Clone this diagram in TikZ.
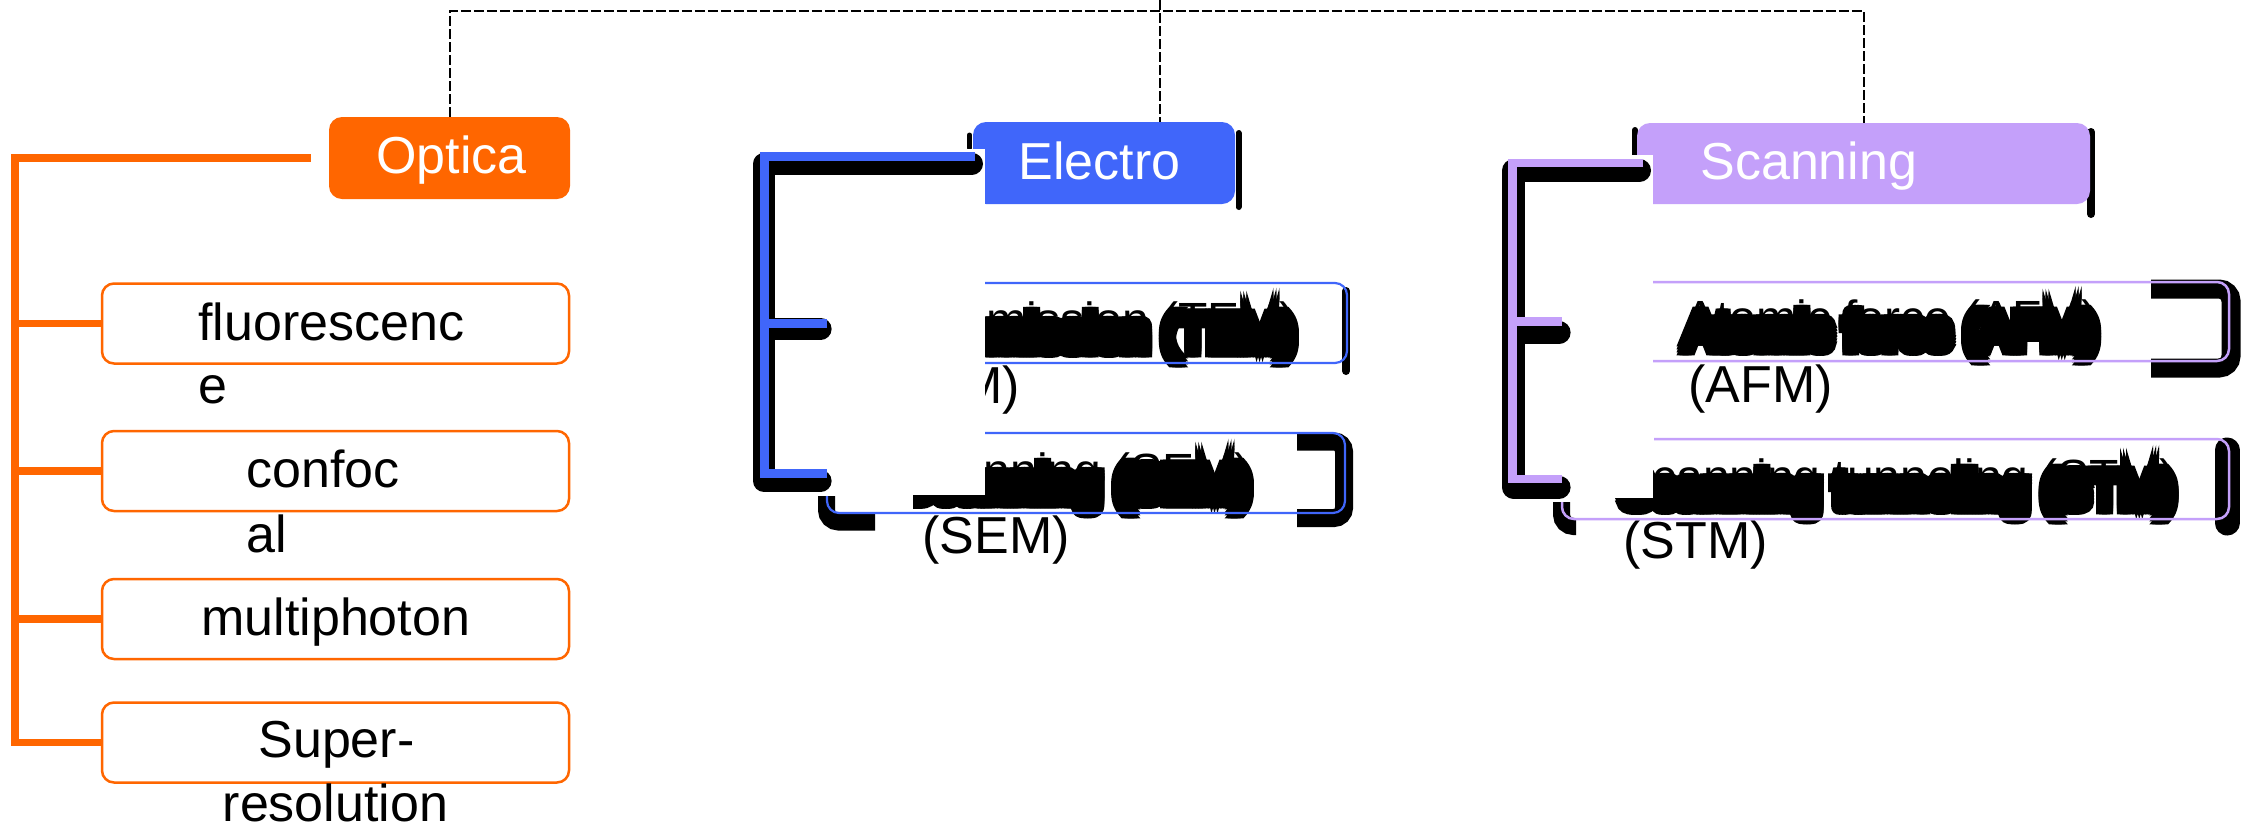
\documentclass[tikz,border=0pt]{standalone}
\usepackage{fontspec}
\setmainfont{Liberation Sans}
\newfontfamily\blobfont[FakeBold=14]{Liberation Sans}
\usetikzlibrary{calc}
\definecolor{optorange}{RGB}{255,102,0}
\definecolor{elblue}{RGB}{64,102,250}
\definecolor{scpurple}{RGB}{196,160,250}
\tikzset{
  txt/.style={inner sep=0pt, font=\fontsize{26pt}{32pt}\selectfont, anchor=base west},
  headtxt/.style={txt, text=white},
  blobthin/.style={inner sep=0pt, font=\fontsize{24pt}{29pt}\selectfont},
  blobthick/.style={inner sep=0pt, font=\fontsize{24pt}{29pt}\blobfont},
  headbox/.style={rectangle, rounded corners=6.5pt, inner sep=0pt},
  obox/.style={rectangle, draw=optorange, line width=1.25pt, rounded corners=6pt, fill=white, minimum width=233.5pt, minimum height=40pt, inner sep=0pt},
  ghost/.style={rectangle, draw=none, inner sep=0pt},
  dashline/.style={black, line width=1pt, dash pattern=on 5pt off 1.5pt},
  shadowpiece/.style={black, line cap=round},
  otree/.style={optorange, line width=3.75pt},
  etree/.style={elblue, line width=4.5pt},
  stree/.style={scpurple, line width=4.25pt},
  treeshadow/.style={black, line cap=round, line join=round},
  eoutline/.style={elblue, line width=1.1pt, rounded corners=6pt},
  soutline/.style={scpurple, line width=1.25pt, rounded corners=6pt}
}
\newcommand{\blobtext}[5]{%
  \foreach \bdx in {-3,0,3}{\foreach \bdy in {9,12,15,18}{%
    \node[blobthick, anchor=#1] at ({#2+(\bdx)},{#3+(\bdy)}) {#4};}}%
  \node[blobthin, anchor=#1] (#5) at (#2,#3) {#4};}
\begin{document}
\begin{tikzpicture}[x=0.5pt,y=-0.5pt]
\useasboundingbox (0,0) rectangle (2249,826);
\fill[white] (0,0) rectangle (2249,826);

% heading shadows
\draw[shadowpiece, line width=2.5pt] (969.5,135) -- (969.5,148);
\draw[shadowpiece, line width=3pt] (1238.5,133) -- (1238.5,207);
\draw[shadowpiece, line width=3pt] (1635,130) -- (1635,155);
\draw[shadowpiece, line width=4pt] (2091,132) -- (2091,214);

% heading boxes
\node[headbox, fill=optorange, minimum width=120.5pt, minimum height=41pt] (optica) at (449.5,158) {};
\node[headbox, fill=elblue, minimum width=131pt, minimum height=41pt] (electro) at (1104,163) {};
\node[headbox, fill=scpurple, minimum width=226.5pt, minimum height=40.5pt] (scanning) at (1863.5,163.5) {};
\fill[white] (955,149) rectangle (985,212);
\fill[white] (1620,155) rectangle (1653,212);
\node[headtxt] (opticaT) at (376,173) {Optica};
\node[headtxt] (electroT) at (1018,179) {Electro};
\node[headtxt] (scanningT) at (1700,179) {Scanning};

% dashed connectors
\coordinate (root) at (1160,0);
\coordinate (bus) at (1160,11);
\draw[dashline] (optica.north) |- (bus) -| (scanning.north);
\draw[dashline] (root) -- (root |- electro.north);

% child boxes of the electron and scanning groups (outline drawn later)
\node[ghost, minimum width=260pt, minimum height=40pt] (teb) at (1087,323) {};
\node[ghost, minimum width=259pt, minimum height=40pt] (seb) at (1086,473) {};
\node[ghost, minimum width=333.5pt, minimum height=39.5pt] (afm) at (1895.5,321.5) {};
\node[ghost, minimum width=333.5pt, minimum height=40pt] (stm) at (1895.5,479) {};

% box shadows
\draw[shadowpiece, line width=4pt] (1346,291) -- (1346,371);
\draw[black, line width=9pt, rounded corners=5pt] (1297,441.5) -- (1344,441.5) -- (1344,518) -- (1297,518);
\draw[black, line width=8.5pt, rounded corners=6pt] (826.5,496) -- (826.5,522) -- (875,522);
\draw[black, line width=9.5pt, rounded corners=6pt] (2151,289) -- (2231,289) -- (2231,368) -- (2151,368);
\draw[shadowpiece, line width=12.5pt] (2227,450) -- (2227,523);
\draw[black, line width=8.5pt, rounded corners=6pt] (1561.5,502) -- (1561.5,526.5) -- (1576,526.5);

% smeared texts
\begin{scope}
\clip (985,250) rectangle (1400,420);
\blobtext{base east}{1296}{336}{Transmission (TEM)}{blobTEM}
\node[txt] (temT) at (875,403) {(TEM)};
\end{scope}
\begin{scope}
\clip (985,420) -- (1400,420) -- (1400,540) -- (913,540) -- (913,495) -- (985,495) -- cycle;
\blobtext{base east}{1251}{487}{Scanning (SEM)}{blobSEM}
\end{scope}
\blobtext{base west}{1684}{334}{Atomic force (AFM)}{blobAFM}
\begin{scope}
\clip (1653,420) -- (2300,420) -- (2300,540) -- (1614,540) -- (1614,498) -- (1653,498) -- cycle;
\blobtext{base west}{1620}{493}{Scanning tunneling (STM)}{blobSTM}
\end{scope}
\node[txt] (semT) at (922,553) {(SEM)};
\node[txt] (afmT) at (1688,402) {(AFM)};
\node[txt] (stmT) at (1623,558) {(STM)};

% electron tree
\coordinate (etop) at (975,156.5);
\coordinate (etrunk) at (764,156.5);
\draw[treeshadow, line width=11pt] ($(etop)+(-3,7)$) -- ($(etrunk)+(0,7)$) -- ($(etrunk|-seb.west)+(0,8)$) -- ($(seb.west)+(-6,8)$);
\draw[treeshadow, line width=11pt] ($(etrunk|-teb.west)+(0,6)$) -- ($(teb.west)+(-6,6)$);
\draw[etree] (etop) -- (etrunk) -- (etrunk|-seb.west) -- (seb.west);
\draw[etree] (etrunk|-teb.west) -- (teb.west);

% scanning tree
\coordinate (stop) at (1643,163);
\coordinate (strunk) at (1512.5,163);
\draw[treeshadow, line width=11.5pt] ($(stop)+(-3.5,7.5)$) -- ($(strunk)+(1,7.5)$) -- ($(strunk|-stm.west)+(1,8)$) -- ($(stm.west)+(-2.5,8)$);
\draw[treeshadow, line width=11.5pt] ($(strunk|-afm.west)+(1,11)$) -- ($(afm.west)+(-2.5,11)$);
\draw[stree] (stop) -- (strunk) -- (strunk|-stm.west) -- (stm.west);
\draw[stree] (strunk|-afm.west) -- (afm.west);

% visible outlines of electron / scanning child boxes
\draw[eoutline] (985,283) -- (1347,283) -- (1347,363) -- (985,363);
\draw[eoutline] (985,433) -- (1345,433) -- (1345,513) -- (827,513) -- (827,496);
\draw[soutline] (1653,282) -- (2229,282) -- (2229,361) -- (1653,361);
\draw[soutline] (1654,439) -- (2229,439) -- (2229,519) -- (1562,519) -- (1562,502);

% optical group
\node[obox] (fluo) at (335.5,323.5) {};
\node[obox] (conf) at (335.5,471) {};
\node[obox] (multi) at (335.5,619) {};
\node[obox] (super) at (335.5,742.5) {};
\coordinate (otrunk) at (15,158);
\draw[otree] ([xshift=-9pt]optica.west) -- (otrunk) -- ($(otrunk|-super.west)+(0,3.75)$);
\draw[otree] (otrunk|-fluo.west) -- (fluo.west);
\draw[otree] (otrunk|-conf.west) -- (conf.west);
\draw[otree] (otrunk|-multi.west) -- (multi.west);
\draw[otree] (otrunk|-super.west) -- (super.west);
\node[txt] (fluoA) at (198,340) {fluorescenc};
\node[txt] (fluoB) at (198,403) {e};
\node[txt] (confA) at (246,487) {confoc};
\node[txt] (confB) at (246,552) {al};
\node[txt] (multiA) at (201,635) {multiphoton};
\node[txt, anchor=base] (superA) at (336.5,757) {Super-};
\node[txt, anchor=base] (superB) at (335.5,821) {resolution};
\end{tikzpicture}
\end{document}
